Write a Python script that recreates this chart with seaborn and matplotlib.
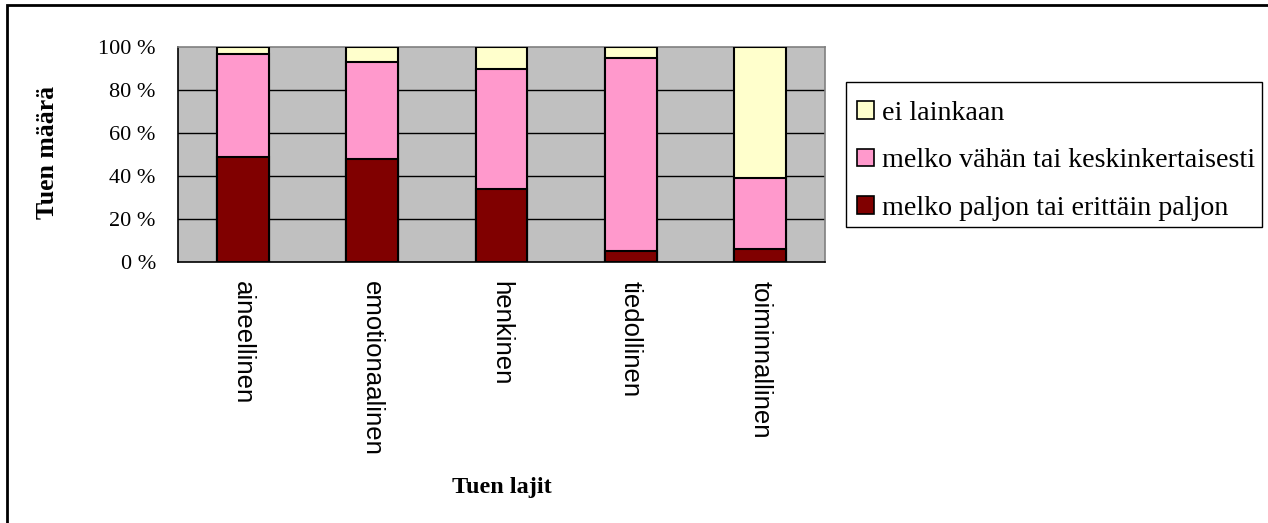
import numpy as np
import pandas as pd
import matplotlib
matplotlib.use('Agg')
import matplotlib.pyplot as plt
from matplotlib.patches import Patch, Rectangle
import seaborn as sns

# Data (percent of answers)
categories = ['aineellinen', 'emotionaalinen', 'henkinen', 'tiedollinen', 'toiminnallinen']
paljon = [49, 48, 34, 5, 6]          # melko paljon tai erittäin paljon
vahan = [48, 45, 56, 90, 33]         # melko vähän tai keskinkertaisesti
ei_lainkaan = [3, 7, 10, 5, 61]      # ei lainkaan
series_names = ['ei lainkaan', 'melko vähän tai keskinkertaisesti', 'melko paljon tai erittäin paljon']
yticks = [0, 20, 40, 60, 80, 100]

c_dark = '#800000'
c_pink = '#FF99CC'
c_yell = '#FFFFCC'

sns.set_style('white')
plt.rcParams['font.family'] = ['Liberation Serif', 'DejaVu Serif']
plt.rcParams['text.color'] = 'black'
plt.rcParams['xtick.color'] = 'black'
plt.rcParams['ytick.color'] = 'black'

df = pd.DataFrame({'laji': categories,
                   'paljon': paljon,
                   'vahan': vahan,
                   'ei': ei_lainkaan})
# cumulative tops for stacking (draw tallest first)
df['top_ei'] = df['paljon'] + df['vahan'] + df['ei']
df['top_vahan'] = df['paljon'] + df['vahan']
df['top_paljon'] = df['paljon']

W, H = 1268, 523
fig = plt.figure(figsize=(W / 100, H / 100), dpi=100)
ax = fig.add_axes([178 / W, 1 - 261.7 / H, 647 / W, 214.4 / H])
ax.set_facecolor('#C0C0C0')

for col, colr in [('top_ei', c_yell), ('top_vahan', c_pink), ('top_paljon', c_dark)]:
    sns.barplot(data=df, x='laji', y=col, color=colr, width=0.4, ax=ax,
                edgecolor='black', linewidth=1.5, saturation=1, zorder=3)

ax.set_xlim(-0.5, len(categories) - 0.5)
ax.set_ylim(0, 100)
ax.set_yticks(yticks)
ax.set_yticklabels([f'{v} %' for v in yticks], fontsize=16)
for v in yticks[1:-1]:
    ax.axhline(v, color='black', lw=1, zorder=1)

# category labels at bar centres, tick marks between categories
ax.set_xticks(range(len(categories)))
ax.set_xticklabels(categories, rotation=270, fontsize=18.5, family='Liberation Sans', va='top')
ax.tick_params(axis='x', which='major', length=0, pad=14)
ax.set_xticks(np.arange(-0.5, len(categories) + 0.5, 1), minor=True)
ax.tick_params(axis='x', which='minor', length=9, width=1, color='black', direction='out')
ax.tick_params(axis='y', length=8, width=1, color='black', direction='out', pad=8)
ax.set_xlabel('')
ax.set_ylabel('')

for s in ['left', 'bottom']:
    ax.spines[s].set_color('black')
    ax.spines[s].set_linewidth(1.2)
for s in ['top', 'right']:
    ax.spines[s].set_color('#808080')
    ax.spines[s].set_linewidth(1.2)
    ax.spines[s].set_visible(True)

fig.text(48 / W, 1 - 152 / H, 'Tuen määrä', rotation=90, ha='center', va='center',
         fontsize=18.5, fontweight='bold')
fig.text(502 / W, 1 - 487 / H, 'Tuen lajit', ha='center', va='center',
         fontsize=17.5, fontweight='bold')

# legend: entries without frame, frame drawn separately like the Excel box
handles = [Patch(facecolor=c, edgecolor='black', linewidth=1.2) for c in [c_yell, c_pink, c_dark]]
leg = fig.legend(handles, series_names, loc='upper left',
                 bbox_to_anchor=(856.7 / W, 1 - 101 / H), fontsize=20.2,
                 frameon=False, handlelength=0.6, handleheight=0.6,
                 handletextpad=0.3, labelspacing=0.8, borderpad=0, borderaxespad=0)
fig.add_artist(Rectangle((845.7 / W, 1 - 226.7 / H), (1261.5 - 845.7) / W, 145 / H,
                         transform=fig.transFigure, fill=False, edgecolor='black', lw=1))

# outer chart border (top and left visible)
fig.add_artist(Rectangle((6.5 / W, -0.1), 1.2, 1 - 4.7 / H + 0.1,
                         transform=fig.transFigure, fill=False, edgecolor='black', lw=2))

fig.savefig('out.png', dpi=100)
